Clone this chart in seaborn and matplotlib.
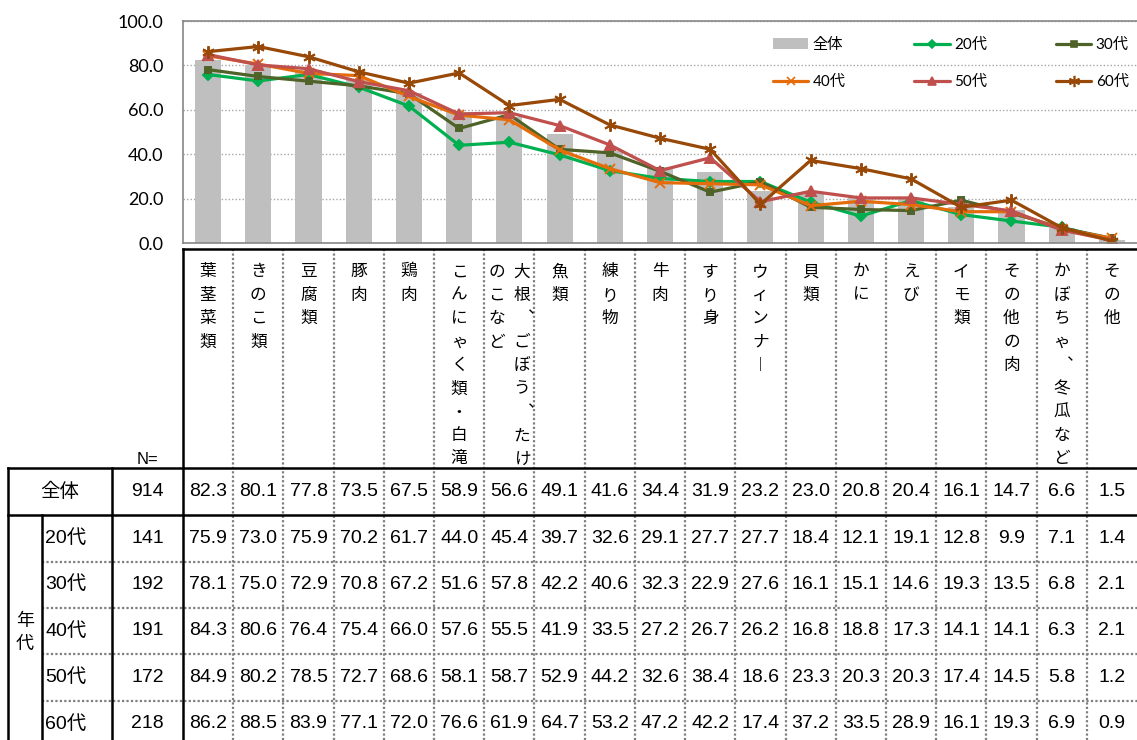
import matplotlib
matplotlib.use("Agg")
import matplotlib.pyplot as plt
import seaborn as sns
from matplotlib.lines import Line2D
from matplotlib.patches import Patch
from matplotlib.ticker import FormatStrFormatter

# ---- data -------------------------------------------------------------
categories = ["葉茎菜類", "きのこ類", "豆腐類", "豚肉", "鶏肉", "こんにゃく類・白滝",
              "大根、ごぼう、たけのこなど", "魚類", "練り物", "牛肉", "すり身", "ウィンナー",
              "貝類", "かに", "えび", "イモ類", "その他の肉", "かぼちゃ、冬瓜など", "その他"]
total = [82.3, 80.1, 77.8, 73.5, 67.5, 58.9, 56.6, 49.1, 41.6, 34.4, 31.9, 23.2,
         23.0, 20.8, 20.4, 16.1, 14.7, 6.6, 1.5]
age_20s = [75.9, 73.0, 75.9, 70.2, 61.7, 44.0, 45.4, 39.7, 32.6, 29.1, 27.7, 27.7,
           18.4, 12.1, 19.1, 12.8, 9.9, 7.1, 1.4]
age_30s = [78.1, 75.0, 72.9, 70.8, 67.2, 51.6, 57.8, 42.2, 40.6, 32.3, 22.9, 27.6,
           16.1, 15.1, 14.6, 19.3, 13.5, 6.8, 2.1]
age_40s = [84.3, 80.6, 76.4, 75.4, 66.0, 57.6, 55.5, 41.9, 33.5, 27.2, 26.7, 26.2,
           16.8, 18.8, 17.3, 14.1, 14.1, 6.3, 2.1]
age_50s = [84.9, 80.2, 78.5, 72.7, 68.6, 58.1, 58.7, 52.9, 44.2, 32.6, 38.4, 18.6,
           23.3, 20.3, 20.3, 17.4, 14.5, 5.8, 1.2]
age_60s = [86.2, 88.5, 83.9, 77.1, 72.0, 76.6, 61.9, 64.7, 53.2, 47.2, 42.2, 17.4,
           37.2, 33.5, 28.9, 16.1, 19.3, 6.9, 0.9]
total_label = "全体"
group_labels = ["20代", "30代", "40代", "50代", "60代"]
group_title = "年代"
sample_sizes = [914, 141, 192, 191, 172, 218]
yticks = [0, 20, 40, 60, 80, 100]

# ---- styling ----------------------------------------------------------
sns.set_style("white")
plt.rcParams["font.family"] = ["Lato", "Noto Sans CJK JP"]
plt.rcParams["text.color"] = "black"
plt.rcParams["ytick.color"] = "black"
plt.rcParams["ytick.labelcolor"] = "black"
CJK = ["Noto Sans CJK JP"]
NUM = ["Liberation Sans", "Noto Sans CJK JP"]

bar_color = "#BFBFBF"
series = [
    (age_20s, "#00B050", "D", 5.0),
    (age_30s, "#4F6228", "s", 5.0),
    (age_40s, "#E46C0A", "x", 7.0),
    (age_50s, "#C0504D", "^", 6.5),
    (age_60s, "#984807", (6, 2, 0), 9.0),
]

W, H = 1137, 740
fig = plt.figure(figsize=(W / 100, H / 100), dpi=100)

# table layer in pixel coordinates
tax = fig.add_axes([0, 0, 1, 1])
tax.set_xlim(0, W)
tax.set_ylim(H, 0)
tax.axis("off")

col_x0 = 183.0
n = len(categories)
cw = (W - col_x0) / n
plot_top, plot_bottom = 21.0, 243.0

ax = fig.add_axes([col_x0 / W, 1 - plot_bottom / H, (W - col_x0) / W,
                   (plot_bottom - plot_top) / H])
ax.patch.set_alpha(0)

sns.barplot(x=categories, y=total, color=bar_color, saturation=1, width=0.52,
            linewidth=0, errorbar=None, ax=ax)
for vals, col, mk, ms in series:
    sns.pointplot(x=categories, y=vals, color=col, markers=mk, errorbar=None,
                  linewidth=2.3, markersize=ms, markeredgewidth=1.4, ax=ax)

ax.set_xlim(-0.5, n - 0.5)
ax.set_ylim(0, 100)
ax.set_yticks(yticks)
ax.yaxis.set_major_formatter(FormatStrFormatter("%.1f"))
ax.tick_params(axis="x", labelbottom=False, length=0)
ax.tick_params(axis="y", length=0, pad=14, labelsize=13, labelcolor="black")
ax.set_xlabel("")
ax.set_ylabel("")
ax.yaxis.grid(True, linestyle=(0, (1, 1.5)), color="#A6A6A6", linewidth=1)
ax.set_axisbelow(True)
for side in ["left", "bottom", "top"]:
    ax.spines[side].set_color("#868686")
    ax.spines[side].set_linewidth(1.2)
ax.spines["right"].set_visible(False)

# legend (row-major layout in three columns)
h_total = Patch(facecolor=bar_color, edgecolor="none")
h_lines = [Line2D([], [], color=c, marker=m, markersize=ms * 0.9, linewidth=2.3,
                  markeredgewidth=1.2) for _, c, m, ms in series]
handles = [h_total, h_lines[2], h_lines[0], h_lines[3], h_lines[1], h_lines[4]]
labels = [total_label, group_labels[2], group_labels[0], group_labels[3],
          group_labels[1], group_labels[4]]
fig.legend(handles, labels, ncol=3, loc="upper left",
           bbox_to_anchor=(773 / W, 1 - 38 / H), bbox_transform=fig.transFigure,
           frameon=False, fontsize=11, handlelength=2.3, handletextpad=0.3,
           columnspacing=4.5, labelspacing=1.5, borderpad=0, borderaxespad=0)

# ---- table ------------------------------------------------------------
head_top, head_bottom = 249.0, 468.0
row_edges = [468.0, 515.0, 561.5, 607.5, 654.0, 700.5, 747.0]
left_edge, group_edge, label_edge = 8.0, 42.0, 112.0

black = dict(color="black", linewidth=1.8, solid_capstyle="projecting")
dotted = dict(color="#7F7F7F", linewidth=1.6, linestyle=(0, (1, 1)))

for k in range(1, n):
    x = col_x0 + k * cw
    tax.plot([x, x], [head_top, H], **dotted)
for y in row_edges[2:-1]:
    tax.plot([group_edge, W], [y, y], **dotted)

tax.plot([col_x0, W], [head_top, head_top], **black)
tax.plot([col_x0, col_x0], [head_top, H], **black)
tax.plot([left_edge, W], [row_edges[0], row_edges[0]], **black)
tax.plot([left_edge, W], [row_edges[1], row_edges[1]], **black)
tax.plot([left_edge, left_edge], [row_edges[0], H], **black)
tax.plot([label_edge, label_edge], [row_edges[0], H], **black)
tax.plot([group_edge, group_edge], [row_edges[1], H], **black)

# vertical category headings
vertical_forms = {"、": "︑", "ー": "︱"}
per_col, step, first_y = 9, 23.4, 270.0
for i, name in enumerate(categories):
    cx = col_x0 + (i + 0.5) * cw
    chunks = [name[k:k + per_col] for k in range(0, len(name), per_col)]
    for j, chunk in enumerate(chunks):
        off = ((len(chunks) - 1) / 2 - j) * 25
        for k, ch in enumerate(chunk):
            glyph = vertical_forms.get(ch, ch)
            dx = 4 if glyph == "︑" else 0
            tax.text(cx + off + dx, first_y + k * step + 6.3, glyph, ha="center",
                     va="baseline", fontsize=12, family=CJK)

tax.text((label_edge + col_x0) / 2, 460, "N=", ha="center", va="center",
         fontsize=12, family=NUM)

# body rows
rows = [total, age_20s, age_30s, age_40s, age_50s, age_60s]
row_names = [total_label] + group_labels
for r, vals in enumerate(rows):
    cy = (row_edges[r] + row_edges[r + 1]) / 2
    if r == 0:
        tax.text((left_edge + label_edge) / 2, cy, row_names[r], ha="center",
                 va="center", fontsize=14, family=NUM)
    else:
        tax.text(group_edge + 3, cy, row_names[r], ha="left", va="center",
                 fontsize=14, family=NUM)
    tax.text((label_edge + col_x0) / 2, cy, str(sample_sizes[r]), ha="center",
             va="center", fontsize=14, family=NUM)
    for i, v in enumerate(vals):
        tax.text(col_x0 + (i + 0.5) * cw, cy, f"{v:.1f}", ha="center",
                 va="center", fontsize=14, family=NUM)

gy = (row_edges[1] + row_edges[-1]) / 2
for k, ch in enumerate(group_title):
    tax.text((left_edge + group_edge) / 2, gy - 11.5 + k * 23 + 6.3, ch,
             ha="center", va="baseline", fontsize=13, family=CJK)

fig.savefig("out.png", dpi=100)
